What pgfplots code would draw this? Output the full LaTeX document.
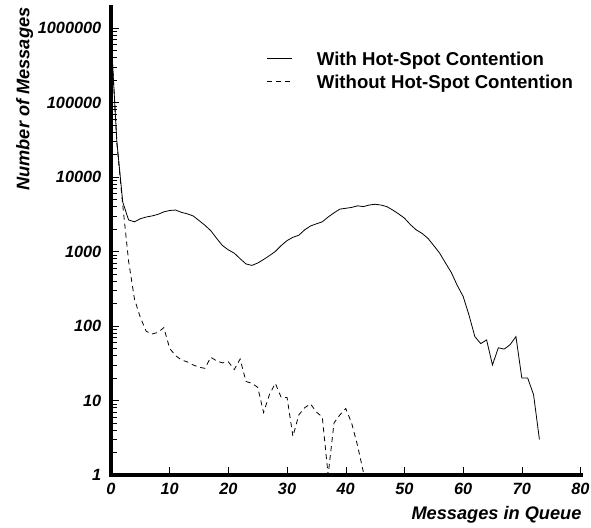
\documentclass[border=0pt]{standalone}
\usepackage{pgfplots}
\usepackage{pgfplotstable}
\pgfplotsset{compat=1.18}
\usepackage{fontspec}
\setmainfont{Liberation Sans}

\pgfplotstableread{
x y
0 800000
1 30000
2 4600
3 2650
4 2500
5 2750
6 2900
7 3000
8 3150
9 3400
10 3550
11 3600
12 3350
13 3200
14 3000
15 2600
16 2250
17 1900
18 1500
19 1200
20 1050
21 950
22 800
23 680
24 650
25 700
26 780
27 880
28 1000
29 1200
30 1400
31 1550
32 1650
33 1950
34 2200
35 2350
36 2500
37 2900
38 3300
39 3700
40 3800
41 3900
42 4100
43 4000
44 4200
45 4300
46 4200
47 4000
48 3600
49 3200
50 2800
51 2300
52 1950
53 1750
54 1500
55 1200
56 950
57 700
58 520
59 350
60 250
61 140
62 72
63 58
64 65
65 30
66 51
67 49
68 56
69 72
70 20
71 20
72 12
73 3
}\withhs

\pgfplotstableread{
x y
0 800000
1 28000
2 4200
3 740
4 230
5 130
6 85
7 78
8 82
9 95
10 50
11 40
12 35
13 33
14 30
15 28
16 27
17 38
18 34
19 32
20 33
21 26
22 36
23 18
24 17
25 15
26 6.9
27 12
28 17
29 11
30 11
31 3.3
32 6.4
33 8
34 9
35 7
36 6
37 1
38 5
39 6.4
40 7.8
41 5
42 2.5
43 1.1
}\withouths

\begin{document}
\begin{tikzpicture}
\useasboundingbox (-111pt,-52pt) rectangle (480pt,475pt);
\begin{axis}[
  scale only axis,
  width=469.5pt, height=467.65pt,
  xmin=0, xmax=80, ymin=1, ymax=1.89e6,
  ymode=log,
  axis lines=left,
  axis line style={-, line width=4.7pt, line cap=rect},
  xtick={0,10,...,80},
  ytick={1,10,100,1000,10000,100000,1000000},
  yticklabels={1,10,100,1000,10000,100000,1000000},
  minor x tick num=0,
  tick align=inside,
  major tick length=8.3pt,
  minor tick length=6.5pt,
  tick style={black, line width=0.5pt},
  /pgf/number format/assume math mode=true,
  ticklabel style={font=\fontsize{16.3}{19}\selectfont\bfseries\itshape, inner sep=0pt},
  yticklabel style={anchor=east, xshift=-9.5pt},
  xticklabel style={anchor=north, yshift=-8pt},
  xlabel={Messages in Queue},
  ylabel={Number of Messages},
  label style={font=\fontsize{18.2}{21}\selectfont\bfseries\itshape, inner sep=0pt},
  xlabel style={at={(axis description cs:1.0025,-0.066)}, anchor=north east},
  ylabel style={at={(axis description cs:-0.1838,1.0)}, anchor=east},
  legend style={at={(axis description cs:0.332,0.8662)}, anchor=west, draw=none, fill=none,
    font=\fontsize{18.6}{21}\selectfont\bfseries, inner sep=0pt,
    nodes={inner sep=0pt, text height=13.3pt, text depth=0pt},
    column sep=24pt, row sep=9.7pt},
  legend cell align=left,
  legend image code/.code={\draw[#1] (0pt,0pt) -- (25pt,0pt);},
  clip=true,
]
\addplot[black, line width=0.8pt] table[x=x,y=y] {\withhs};
\addlegendentry{With Hot-Spot Contention}
\addplot[black, line width=0.8pt, dash pattern=on 5pt off 4pt] table[x=x,y=y] {\withouths};
\addlegendentry{Without Hot-Spot Contention}
\end{axis}
\end{tikzpicture}
\end{document}
